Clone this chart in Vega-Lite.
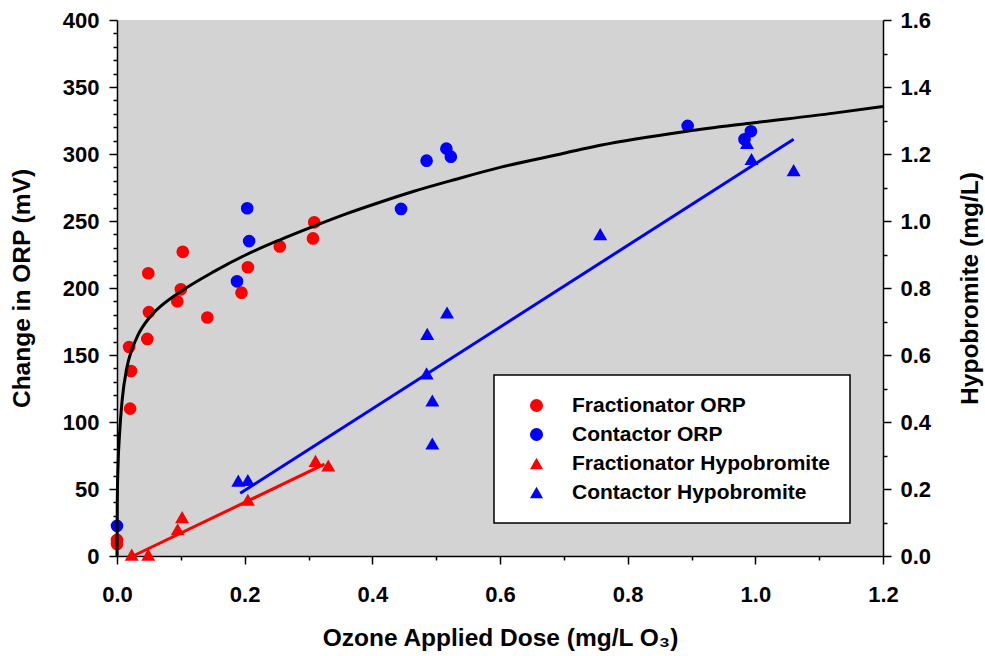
{
  "$schema": "https://vega.github.io/schema/vega-lite/v6.json",
  "width": 766,
  "height": 536,
  "autosize": {"type": "none"},
  "padding": {"left": 117, "top": 20, "right": 102, "bottom": 100},
  "config": {
    "font": "Liberation Sans",
    "view": {"stroke": null, "fill": "#d3d3d3"},
    "axis": {
      "grid": false,
      "labelFontSize": 22,
      "labelFontWeight": "bold",
      "labelColor": "black",
      "titleFontSize": 24.5,
      "titleFontWeight": "bold",
      "titleColor": "black",
      "domainColor": "black",
      "domainWidth": 1.5,
      "tickColor": "black",
      "tickWidth": 1.5,
      "labelOverlap": false,
      "labelFlush": false,
      "labelBound": false
    },
    "legend": {"strokeWidth": 1.5}
  },
  "datasets": {
    "orp": [
      {"x": 0, "y": 12, "series": "Fractionator ORP"},
      {"x": 0, "y": 9, "series": "Fractionator ORP"},
      {"x": 0.0205, "y": 110, "series": "Fractionator ORP"},
      {"x": 0.022, "y": 138, "series": "Fractionator ORP"},
      {"x": 0.019, "y": 156, "series": "Fractionator ORP"},
      {"x": 0.0475, "y": 162, "series": "Fractionator ORP"},
      {"x": 0.05, "y": 182, "series": "Fractionator ORP"},
      {"x": 0.049, "y": 211, "series": "Fractionator ORP"},
      {"x": 0.0945, "y": 190, "series": "Fractionator ORP"},
      {"x": 0.1, "y": 199, "series": "Fractionator ORP"},
      {"x": 0.103, "y": 227, "series": "Fractionator ORP"},
      {"x": 0.1415, "y": 178, "series": "Fractionator ORP"},
      {"x": 0.195, "y": 196.5, "series": "Fractionator ORP"},
      {"x": 0.205, "y": 215.5, "series": "Fractionator ORP"},
      {"x": 0.255, "y": 231, "series": "Fractionator ORP"},
      {"x": 0.309, "y": 249, "series": "Fractionator ORP"},
      {"x": 0.307, "y": 237, "series": "Fractionator ORP"},
      {"x": 0, "y": 22.5, "series": "Contactor ORP"},
      {"x": 0.188, "y": 205, "series": "Contactor ORP"},
      {"x": 0.207, "y": 235, "series": "Contactor ORP"},
      {"x": 0.204, "y": 259.5, "series": "Contactor ORP"},
      {"x": 0.445, "y": 259, "series": "Contactor ORP"},
      {"x": 0.485, "y": 295, "series": "Contactor ORP"},
      {"x": 0.516, "y": 304, "series": "Contactor ORP"},
      {"x": 0.523, "y": 298, "series": "Contactor ORP"},
      {"x": 0.894, "y": 321, "series": "Contactor ORP"},
      {"x": 0.993, "y": 317, "series": "Contactor ORP"},
      {"x": 0.983, "y": 311, "series": "Contactor ORP"}
    ],
    "hypo": [
      {"x": 0.023, "y": 0.004, "series": "Fractionator Hypobromite"},
      {"x": 0.049, "y": 0.004, "series": "Fractionator Hypobromite"},
      {"x": 0.095, "y": 0.08, "series": "Fractionator Hypobromite"},
      {"x": 0.102, "y": 0.116, "series": "Fractionator Hypobromite"},
      {"x": 0.205, "y": 0.168, "series": "Fractionator Hypobromite"},
      {"x": 0.311, "y": 0.284, "series": "Fractionator Hypobromite"},
      {"x": 0.331, "y": 0.27, "series": "Fractionator Hypobromite"},
      {"x": 0.19, "y": 0.225, "series": "Contactor Hypobromite"},
      {"x": 0.205, "y": 0.227, "series": "Contactor Hypobromite"},
      {"x": 0.517, "y": 0.727, "series": "Contactor Hypobromite"},
      {"x": 0.486, "y": 0.663, "series": "Contactor Hypobromite"},
      {"x": 0.485, "y": 0.545, "series": "Contactor Hypobromite"},
      {"x": 0.494, "y": 0.464, "series": "Contactor Hypobromite"},
      {"x": 0.494, "y": 0.336, "series": "Contactor Hypobromite"},
      {"x": 0.757, "y": 0.961, "series": "Contactor Hypobromite"},
      {"x": 0.994, "y": 1.185, "series": "Contactor Hypobromite"},
      {"x": 0.987, "y": 1.233, "series": "Contactor Hypobromite"},
      {"x": 1.06, "y": 1.152, "series": "Contactor Hypobromite"}
    ],
    "curve": [
      {"x": 0, "y": 0},
      {"x": 0.0004, "y": 40},
      {"x": 0.0016, "y": 67},
      {"x": 0.004, "y": 91},
      {"x": 0.008, "y": 116},
      {"x": 0.0157, "y": 141},
      {"x": 0.0225, "y": 153},
      {"x": 0.033, "y": 165},
      {"x": 0.051, "y": 178},
      {"x": 0.07, "y": 187},
      {"x": 0.0987, "y": 197},
      {"x": 0.151, "y": 212},
      {"x": 0.203, "y": 225},
      {"x": 0.2555, "y": 236},
      {"x": 0.3077, "y": 246},
      {"x": 0.36, "y": 255.5},
      {"x": 0.412, "y": 264},
      {"x": 0.464, "y": 272},
      {"x": 0.53, "y": 281},
      {"x": 0.6, "y": 290},
      {"x": 0.7, "y": 300.5},
      {"x": 0.757, "y": 306.5},
      {"x": 0.893, "y": 317},
      {"x": 0.992, "y": 323},
      {"x": 1.123, "y": 330.5},
      {"x": 1.2, "y": 335.5}
    ],
    "fits": [
      {"x": 0.025, "y": 0, "fit": "Fractionator"},
      {"x": 0.325, "y": 0.274, "fit": "Fractionator"},
      {"x": 0.193, "y": 0.187, "fit": "Contactor"},
      {"x": 1.06, "y": 1.244, "fit": "Contactor"}
    ]
  },
  "encoding": {
    "x": {
      "field": "x",
      "type": "quantitative",
      "scale": {"domain": [0, 1.2], "nice": false, "zero": false},
      "axis": {
        "values": [0, 0.1, 0.2, 0.3, 0.4, 0.5, 0.6, 0.7, 0.8, 0.9, 1.0, 1.1, 1.2],
        "format": ".1f",
        "labelExpr": "round(datum.value*10) % 2 === 0 ? datum.label : ''",
        "tickSize": {"condition": {"test": "round(datum.value*10) % 2 === 0", "value": 8}, "value": 4},
        "labelPadding": 20,
        "title": "Ozone Applied Dose (mg/L O₃)",
        "titleX": 383,
        "titleY": 82,
        "titleAlign": "center",
        "titleBaseline": "middle"
      }
    }
  },
  "layer": [
    {
      "encoding": {
        "y": {
          "field": "y",
          "type": "quantitative",
          "scale": {"domain": [0, 400], "nice": false},
          "axis": {
            "orient": "left",
            "values": [0,10,20,30,40,50,60,70,80,90,100,110,120,130,140,150,160,170,180,190,200,210,220,230,240,250,260,270,280,290,300,310,320,330,340,350,360,370,380,390,400],
            "labelExpr": "datum.value % 50 === 0 ? datum.label : ''",
            "tickSize": {"condition": {"test": "datum.value % 50 === 0", "value": 8}, "value": 4},
            "labelPadding": 10,
            "title": "Change in ORP (mV)",
            "titleAngle": 270,
            "titleX": -95,
            "titleY": 268,
            "titleAlign": "center",
            "titleBaseline": "middle"
          }
        }
      },
      "layer": [
        {
          "data": {"name": "orp"},
          "mark": {"type": "point", "filled": true, "opacity": 1, "size": 160, "strokeWidth": 0},
          "encoding": {
            "color": {
              "field": "series", "type": "nominal",
              "scale": {"domain": ["Fractionator ORP", "Contactor ORP", "Fractionator Hypobromite", "Contactor Hypobromite"], "range": ["#ff0000", "#0000ff", "#ff0000", "#0000ff"]},
              "legend": {"title": null, "orient": "none", "legendX": 377, "legendY": 355, "fillColor": "white", "strokeColor": "black", "padding": 20, "labelFontSize": 21, "labelFontWeight": "bold", "labelColor": "black", "labelLimit": 500, "symbolSize": 170, "symbolStrokeWidth": 0, "symbolOffset": 12, "labelOffset": 25, "rowPadding": 7}
            },
            "shape": {
              "field": "series", "type": "nominal",
              "scale": {"domain": ["Fractionator ORP", "Contactor ORP", "Fractionator Hypobromite", "Contactor Hypobromite"], "range": ["circle", "circle", "triangle-up", "triangle-up"]},
              "legend": {"title": null, "orient": "none", "legendX": 377, "legendY": 355, "fillColor": "white", "strokeColor": "black", "padding": 20, "labelFontSize": 21, "labelFontWeight": "bold", "labelColor": "black", "labelLimit": 500, "symbolSize": 170, "symbolStrokeWidth": 0, "symbolOffset": 12, "labelOffset": 25, "rowPadding": 7}
            }
          }
        },
        {
          "data": {"name": "curve"},
          "mark": {"type": "line", "color": "black", "strokeWidth": 3, "interpolate": "monotone"},
          "encoding": {}
        }
      ]
    },
    {
      "encoding": {
        "y": {
          "field": "y",
          "type": "quantitative",
          "scale": {"domain": [0, 1.6], "nice": false},
          "axis": {
            "orient": "right",
            "values": [0,0.1,0.2,0.3,0.4,0.5,0.6,0.7,0.8,0.9,1.0,1.1,1.2,1.3,1.4,1.5,1.6],
            "format": ".1f",
            "labelExpr": "round(datum.value*10) % 2 === 0 ? datum.label : ''",
            "tickSize": {"condition": {"test": "round(datum.value*10) % 2 === 0", "value": 8}, "value": 4},
            "labelPadding": 9,
            "title": "Hypobromite (mg/L)",
            "titleAngle": 270,
            "titleX": 87,
            "titleY": 268,
            "titleAlign": "center",
            "titleBaseline": "middle"
          }
        }
      },
      "layer": [
        {
          "data": {"name": "hypo"},
          "mark": {"type": "point", "filled": true, "opacity": 1, "size": 196, "strokeWidth": 0},
          "encoding": {
            "color": {"field": "series", "type": "nominal"},
            "shape": {"field": "series", "type": "nominal"}
          }
        },
        {
          "data": {"name": "fits"},
          "transform": [{"filter": "datum.fit === 'Fractionator'"}],
          "mark": {"type": "line", "color": "#ff0000", "strokeWidth": 3},
          "encoding": {}
        },
        {
          "data": {"name": "fits"},
          "transform": [{"filter": "datum.fit === 'Contactor'"}],
          "mark": {"type": "line", "color": "#0000ff", "strokeWidth": 3},
          "encoding": {}
        }
      ]
    }
  ],
  "resolve": {"scale": {"y": "independent"}}
}
